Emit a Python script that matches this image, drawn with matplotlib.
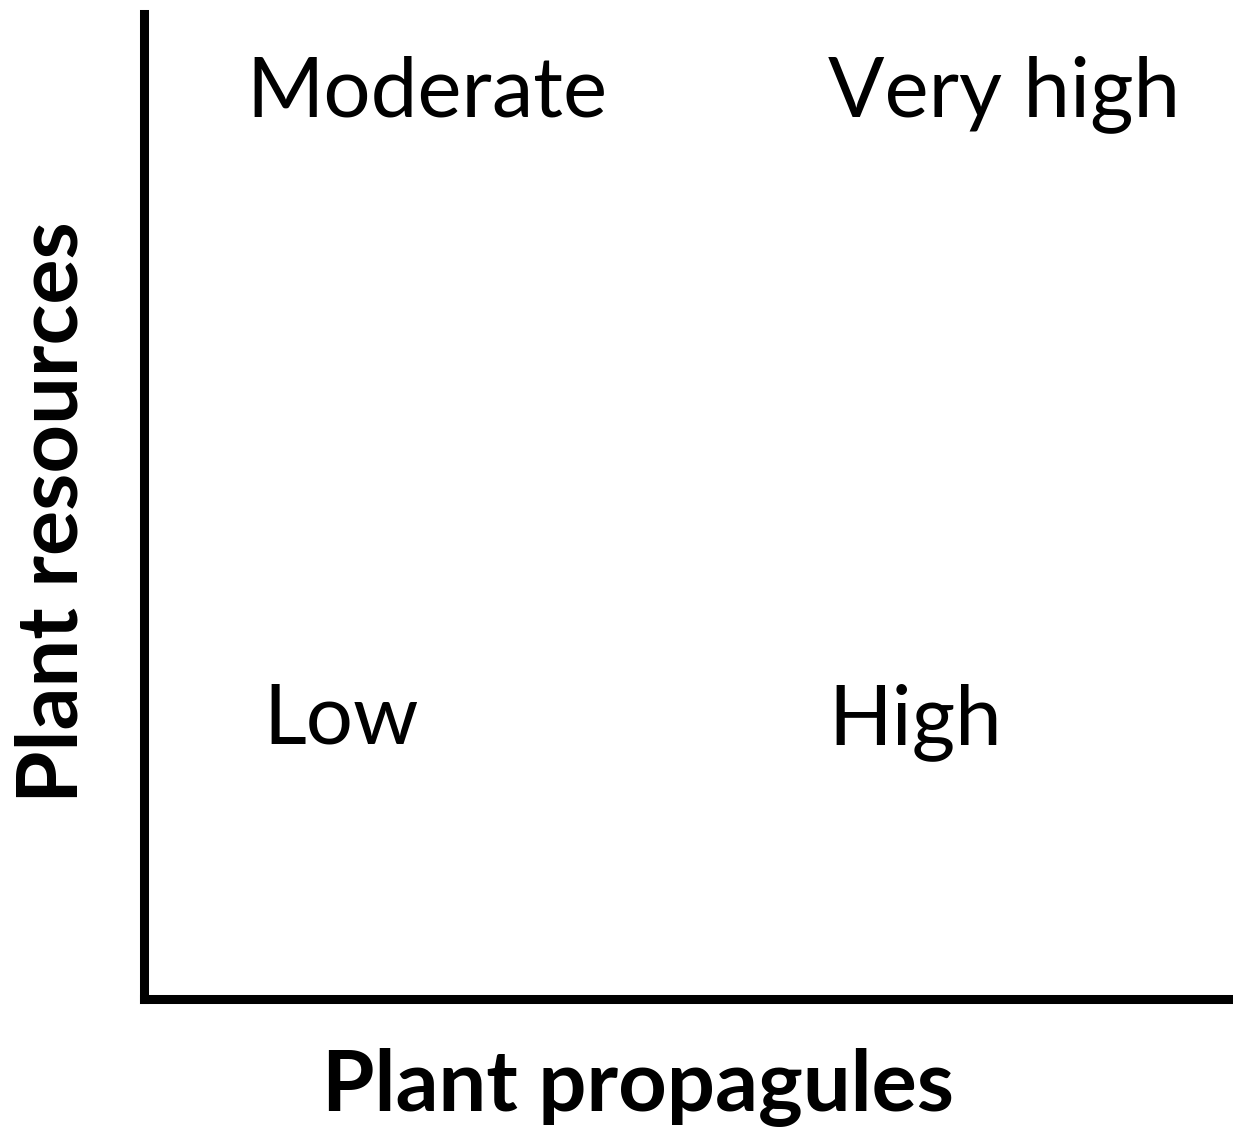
import matplotlib.pyplot as plt

# quadrant labels and which half of each axis they sit in (0 = low, 1 = high)
quadrant_labels = ['Low', 'Moderate', 'High', 'Very high']
propagule_level = [0, 0, 1, 1]
resource_level = [0, 1, 0, 1]

xlabel = 'Plant propagules'
ylabel = 'Plant resources'

plt.rcParams['font.family'] = ['Lato', 'DejaVu Sans']

fig = plt.figure(figsize=(12.33, 11.27), dpi=100)
ax = fig.add_axes([0.1168, 0.1136, 0.8832, 0.8740])

ax.set_xlim(0, 1)
ax.set_ylim(0, 1)
for side in ['top', 'right']:
    ax.spines[side].set_visible(False)
for side in ['left', 'bottom']:
    ax.spines[side].set_linewidth(6.5)
    ax.spines[side].set_color('black')
ax.set_xticks([])
ax.set_yticks([])

x_of = {0: 0.094, 1: 0.628}
y_of = {0: 0.259, 1: 0.896}
nudge = {'Low': 0.016}
for lab, px, ry in zip(quadrant_labels, propagule_level, resource_level):
    ax.text(x_of[px] + nudge.get(lab, 0), y_of[ry], lab, fontsize=60,
            ha='left', va='baseline', transform=ax.transAxes)

fig.text(638 / 1233, 17 / 1127, xlabel, fontsize=61, fontweight='bold',
         ha='center', va='baseline', rotation_mode='anchor')
fig.text(78 / 1233, 615 / 1127, ylabel, fontsize=61, fontweight='bold',
         ha='center', va='baseline', rotation=90, rotation_mode='anchor')

fig.savefig('out.png', dpi=100)
